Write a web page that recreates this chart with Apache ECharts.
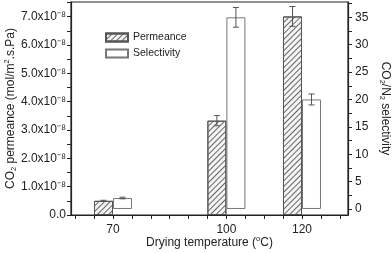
<!DOCTYPE html>
<html><head><meta charset="utf-8">
<script src="https://cdn.jsdelivr.net/npm/echarts@6/dist/echarts.min.js"></script>
<style>html,body{margin:0;padding:0;background:#fff}#c{width:392px;height:253px}</style>
</head><body><div id="c"></div>
<script>
const temperatures = [70, 100, 120];
const permeance = [0.50e-8, 3.33e-8, 7.01e-8];
const permeanceErr = [0.02e-8, 0.18e-8, 0.35e-8];
const selectivity = [2.0, 35.0, 20.0];
const selectivityErr = [0.15, 1.8, 1.0];
const xTickLabels = [70, 100, 120];
const xTicks = [60, 65, 70, 75, 80, 85, 90, 95, 100, 105, 110, 115, 120, 125, 130];
const leftTickLabels = [0, 1e-8, 2e-8, 3e-8, 4e-8, 5e-8, 6e-8, 7e-8];
const leftTicks = [0, 0.5e-8, 1e-8, 1.5e-8, 2e-8, 2.5e-8, 3e-8, 3.5e-8, 4e-8, 4.5e-8, 5e-8, 5.5e-8, 6e-8, 6.5e-8, 7e-8, 7.5e-8];
const rightTickLabels = [0, 5, 10, 15, 20, 25, 30, 35];
const rightTicks = [0, 2.5, 5, 7.5, 10, 12.5, 15, 17.5, 20, 22.5, 25, 27.5, 30, 32.5, 35, 37.5];

const FONT = "'Liberation Sans', Arial, sans-serif";
const AX = '#222';
const chart = echarts.init(document.getElementById('c'));

function errSeries(name, vals, errs, yIdx, offset) {
  return {
    type: 'custom', name: name, xAxisIndex: 0, yAxisIndex: yIdx, z: 10,
    data: temperatures.map((t, i) => [t, vals[i] - errs[i], vals[i] + errs[i]]),
    encode: { x: 0, y: [1, 2] },
    renderItem: function (params, api) {
      const x = api.value(0);
      const top = api.coord([x, api.value(2)]);
      const bot = api.coord([x, api.value(1)]);
      const cx = top[0] + offset;
      const st = { stroke: '#555', lineWidth: 1 };
      return { type: 'group', children: [
        { type: 'line', shape: { x1: cx, y1: top[1], x2: cx, y2: bot[1] }, style: st },
        { type: 'line', shape: { x1: cx - 3, y1: top[1], x2: cx + 3, y2: top[1] }, style: st },
        { type: 'line', shape: { x1: cx - 3, y1: bot[1], x2: cx + 3, y2: bot[1] }, style: st }
      ]};
    }
  };
}

const richBase = {
  a: { fontSize: 12, fontFamily: FONT, color: AX, lineHeight: 15 },
  sub: { fontSize: 7.5, fontFamily: FONT, color: AX, verticalAlign: 'bottom', lineHeight: 15 },
  sup: { fontSize: 7.5, fontFamily: FONT, color: AX, verticalAlign: 'top', lineHeight: 15 }
};

chart.setOption({
  animation: false,
  textStyle: { fontFamily: FONT },
  grid: { left: 71, right: 44, top: 2, bottom: 38, show: true, borderColor: AX, borderWidth: 1.2, containLabel: false, outerBoundsMode: 'none' },
  legend: {
    data: ['Permeance', 'Selectivity'], orient: 'vertical', left: 100, top: 27,
    itemWidth: 22, itemHeight: 8, itemGap: 5, icon: 'rect',
    textStyle: { fontSize: 10.5, color: AX, fontFamily: FONT }
  },
  xAxis: {
    type: 'value', min: 58.89, max: 132.17, position: 'bottom',
    name: '{a|Drying temperature (}{sup|o}{a|C)}', nameLocation: 'middle', nameGap: 20, nameMoveOverlap: false,
    nameTextStyle: { rich: richBase },
    axisLine: { show: true, onZero: false, lineStyle: { color: AX, width: 1.2 } },
    axisTick: { show: true, customValues: xTicks, length: 4, lineStyle: { color: AX } },
    axisLabel: { customValues: xTickLabels, margin: 9, fontSize: 12, color: AX, fontFamily: FONT },
    splitLine: { show: false }
  },
  yAxis: [
    {
      type: 'value', min: 0, max: 7.52e-8, position: 'left',
      name: '{a|CO}{sub|2}{a| permeance (mol/m}{sup|2}{a|.s.Pa)}', nameLocation: 'middle', nameGap: 53, nameMoveOverlap: false,
      nameRotate: 90, nameTextStyle: { rich: richBase },
      axisLine: { show: true, onZero: false, lineStyle: { color: AX, width: 1.2 } },
      axisTick: { show: true, customValues: leftTicks, length: 4, lineStyle: { color: AX } },
      axisLabel: {
        customValues: leftTickLabels, margin: 5, fontSize: 12, color: AX, fontFamily: FONT,
        formatter: v => Math.abs(v) < 1e-12 ? '0.0' : (v / 1e-8).toFixed(1) + 'x10\u207B\u2078'
      },
      splitLine: { show: false }
    },
    {
      type: 'value', min: -1.1, max: 37.8, position: 'right',
      name: '{a|CO}{sub|2}{a|/N}{sub|2}{a| selectivity}', nameLocation: 'middle', nameGap: 30, nameMoveOverlap: false,
      nameRotate: -90, nameTextStyle: { rich: richBase },
      axisLine: { show: true, onZero: false, lineStyle: { color: AX, width: 1.2 } },
      axisTick: { show: true, customValues: rightTicks, length: 4, lineStyle: { color: AX } },
      axisLabel: { customValues: rightTickLabels, margin: 7, fontSize: 12, color: AX, fontFamily: FONT },
      splitLine: { show: false }
    }
  ],
  series: [
    {
      name: 'Permeance', type: 'bar', yAxisIndex: 0, barWidth: 19, barGap: '0%',
      data: temperatures.map((t, i) => [t, permeance[i]]),
      itemStyle: {
        color: '#f4f4f4', borderColor: '#555', borderWidth: 1,
        decal: { symbol: 'rect', symbolSize: 1, dashArrayX: [1, 0], dashArrayY: [1, 2.2], rotation: -Math.PI / 4, color: '#666' }
      }
    },
    {
      name: 'Selectivity', type: 'bar', yAxisIndex: 1, barWidth: 19, barGap: '0%',
      data: temperatures.map((t, i) => [t, selectivity[i]]),
      itemStyle: { color: '#ffffff', borderColor: '#777', borderWidth: 1 }
    },
    errSeries('permErr', permeance, permeanceErr, 0, -9.5),
    errSeries('selErr', selectivity, selectivityErr, 1, 9.5)
  ]
});
</script></body></html>
